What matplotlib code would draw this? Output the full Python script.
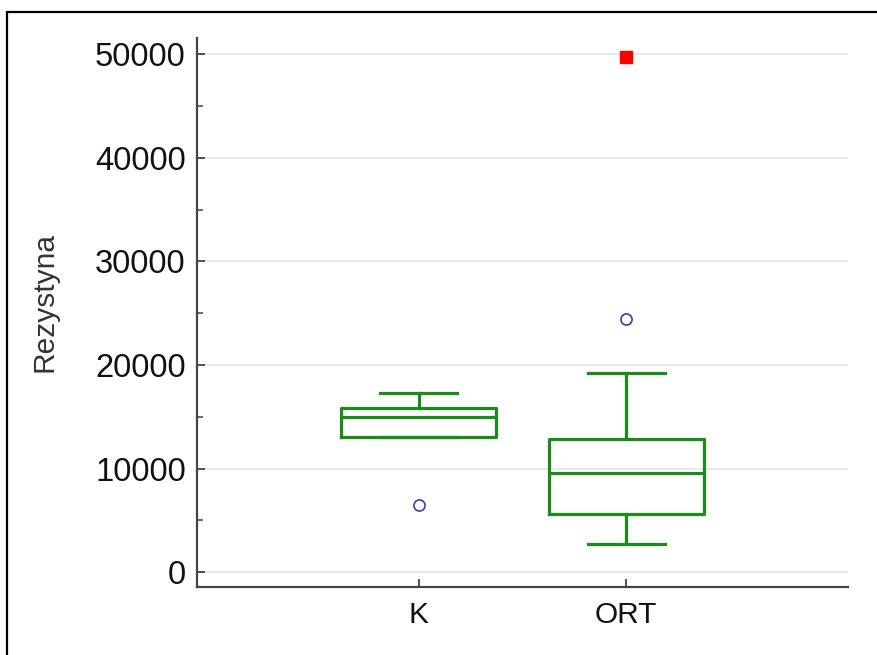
import matplotlib
matplotlib.use('Agg')
import matplotlib.pyplot as plt
from matplotlib.patches import Rectangle
from matplotlib.ticker import MultipleLocator

plt.rcParams['font.family'] = ['Liberation Sans', 'DejaVu Sans']

groups = ['K', 'ORT']
q1 = [13090, 5630]
median = [14960, 9540]
q3 = [15890, 12900]
whisker_low = [13090, 2740]
whisker_high = [17340, 19220]
outliers = [[6470], [24450]]
far_outliers = [[], [49700]]

green = '#1a8c1a'
axis_col = '#444444'

fig = plt.figure(figsize=(8.77, 6.55), dpi=100)
ax = fig.add_axes([0.2246, 0.1038, 0.7424, 0.8377])

stats = []
for i, name in enumerate(groups):
    stats.append({'label': name, 'q1': q1[i], 'med': median[i], 'q3': q3[i],
                  'whislo': whisker_low[i], 'whishi': whisker_high[i],
                  'fliers': outliers[i]})

line = dict(color=green, linewidth=2.3)
ax.bxp(stats, positions=[1, 2], widths=0.748, capwidths=0.37,
       boxprops=line, medianprops=line, whiskerprops=line, capprops=line,
       flierprops=dict(marker='o', markersize=8, markerfacecolor='none',
                       markeredgecolor='#3c3cb4', markeredgewidth=1.2),
       manage_ticks=False)

for i, vals in enumerate(far_outliers):
    if vals:
        ax.plot([i + 1] * len(vals), vals, linestyle='none', marker='s',
                markersize=8, color='#ff0000', zorder=4)

ax.set_xlim(-0.07, 3.07)
ax.set_ylim(-1420, 51540)
ax.set_xticks([1, 2])
ax.set_xticklabels(groups)
ax.yaxis.set_major_locator(MultipleLocator(10000))
ax.yaxis.set_minor_locator(MultipleLocator(5000))

ax.grid(axis='y', which='major', color='#e6e6e6', linewidth=1.3)
ax.set_axisbelow(True)

for side in ('top', 'right'):
    ax.spines[side].set_visible(False)
for side in ('left', 'bottom'):
    ax.spines[side].set_color(axis_col)
    ax.spines[side].set_linewidth(1.6)

ax.tick_params(axis='both', which='major', direction='in', length=6,
               width=1.3, color=axis_col, labelcolor='#111111')
ax.tick_params(axis='y', which='major', pad=8, labelsize=23.5)
ax.tick_params(axis='x', which='major', pad=10, labelsize=21.5)
ax.tick_params(axis='y', which='minor', direction='in', length=4,
               width=1.1, color=axis_col)

ax.set_ylabel('Rezystyna', fontsize=21.5, color='#333333')
ax.yaxis.set_label_coords(-0.212, 0.52)

# outer frame around the whole chart
fig.patches.append(Rectangle((7 / 877, -0.1), 1.2, 1 - 12 / 655 + 0.1,
                             transform=fig.transFigure, fill=False,
                             edgecolor='black', linewidth=1.6))

fig.savefig('out.png', dpi=100)
